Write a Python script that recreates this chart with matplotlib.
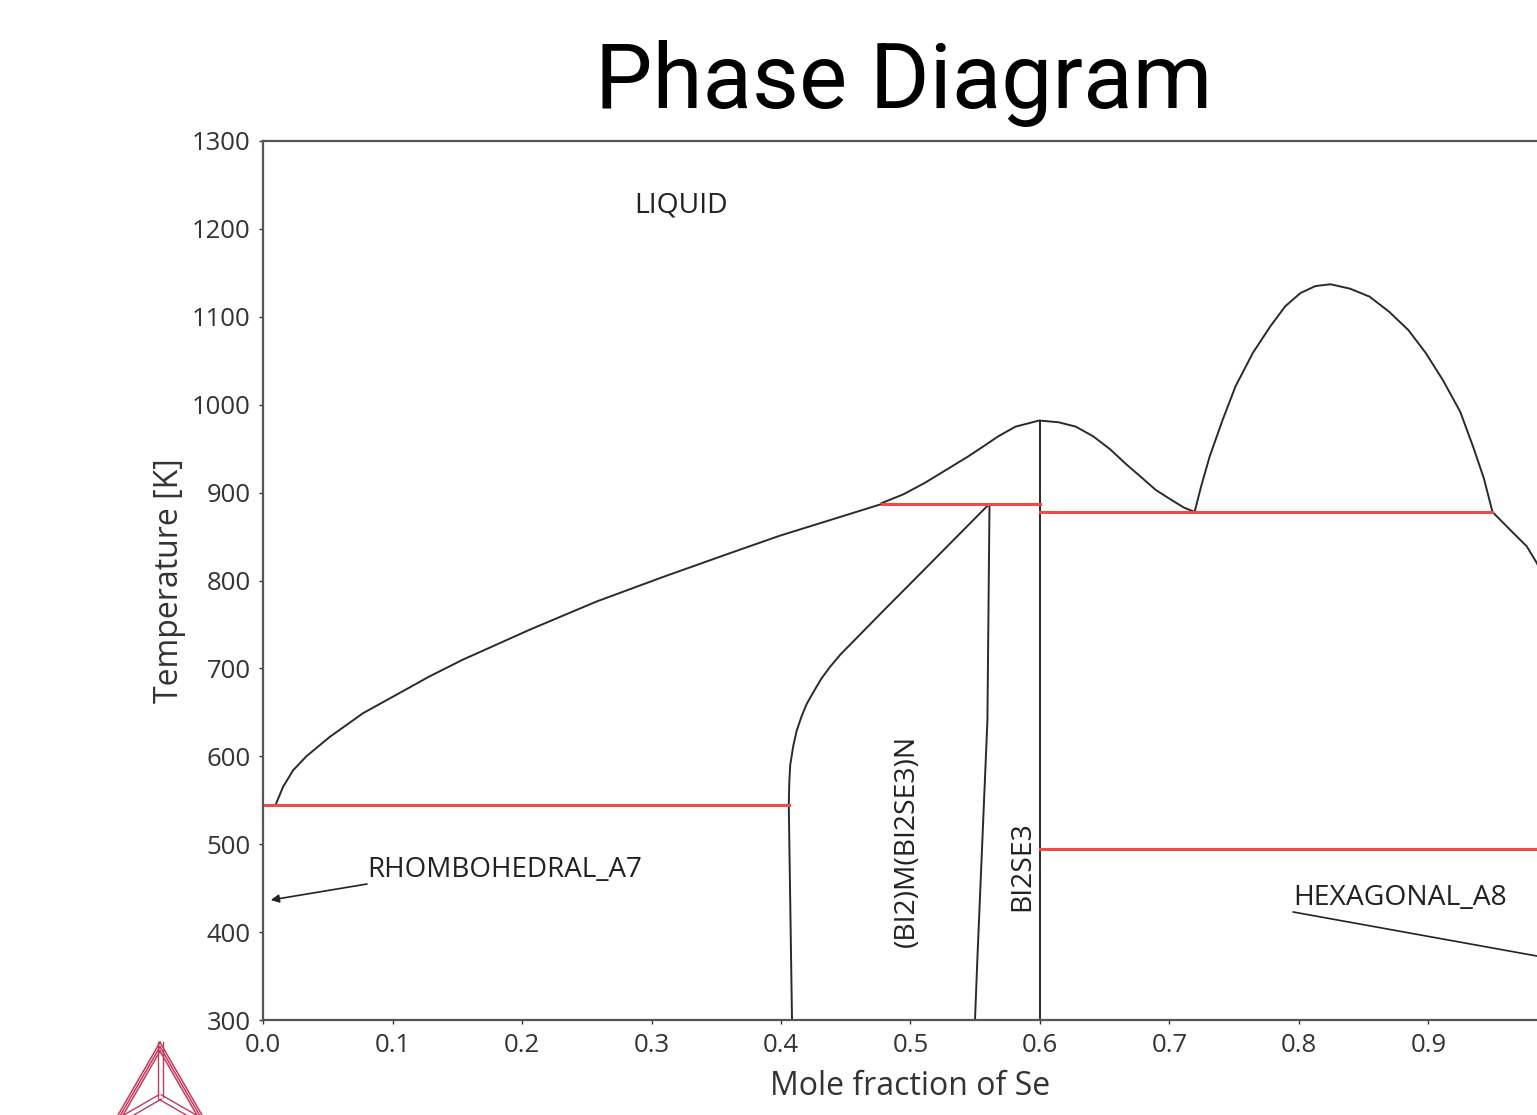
import numpy as np
import matplotlib
matplotlib.use("Agg")
import matplotlib.pyplot as plt

# --- data (x = mole fraction Se, T in K) ---
# liquidus on the Bi-rich side, from the 545 K line up to the eutectic
liq_left_x = [0.0098, 0.0154, 0.0232, 0.0335, 0.0515, 0.0772, 0.1030, 0.1287, 0.1544,
              0.1802, 0.2059, 0.2574, 0.3089, 0.3604, 0.3992, 0.4276, 0.4777]
liq_left_T = [545, 565, 584, 600, 622, 649, 670, 691, 710,
              727, 744, 776, 804, 831, 851, 864, 887]

# liquidus around the Bi2Se3 congruent maximum
liq_mid_x = [0.4777, 0.4944, 0.5110, 0.5277, 0.5444, 0.5577, 0.5677, 0.5810, 0.5994,
             0.6144, 0.6277, 0.6411, 0.6544, 0.6660, 0.6778, 0.6894, 0.7011, 0.7111, 0.7194]
liq_mid_T = [888, 898, 911, 926, 941, 954, 964, 975, 982,
             980, 975, 964, 949, 933, 918, 903, 892, 883, 878]

# miscibility-gap dome on the Se-rich side
dome_x = [0.7194, 0.7244, 0.7310, 0.7411, 0.7510, 0.7644, 0.7778, 0.7894, 0.8011, 0.8127,
          0.8244, 0.8394, 0.8544, 0.8694, 0.8844, 0.8978, 0.9111, 0.9245, 0.9345, 0.9428, 0.9494]
dome_T = [878, 907, 941, 983, 1021, 1059, 1089, 1112, 1127, 1135,
          1137, 1132, 1123, 1106, 1085, 1059, 1028, 992, 952, 916, 878]

# liquidus going down towards pure Se
liq_right_x = [0.9494, 0.9655, 0.9758, 0.9836, 0.9950]
liq_right_T = [878, 854, 839, 820, 785]

# (Bi2)M(Bi2Se3)N phase boundaries
bnd_left_x = [0.4085, 0.4060, 0.4064, 0.4071, 0.4095, 0.4121, 0.4160, 0.4200, 0.4250,
              0.4310, 0.4380, 0.4460, 0.4600, 0.4800, 0.5050, 0.5305, 0.5601]
bnd_left_T = [300, 545, 570, 590, 612, 629, 646, 660, 673,
              688, 702, 716, 737, 767, 804, 842, 886]
bnd_right_x = [0.5610, 0.5594, 0.5516, 0.5498]
bnd_right_T = [886, 641, 368, 300]

# Bi2Se3 line compound
bi2se3_x = 0.6
bi2se3_T = [300, 982]

# invariant (three-phase) lines: x start, x end, T
inv_x0 = [0.0, 0.4777, 0.6, 0.6]
inv_x1 = [0.406, 0.6, 0.9494, 1.0]
inv_T = [545, 887.5, 878, 494.5]

# phase labels
labels = ["LIQUID", "(BI2)M(BI2SE3)N", "BI2SE3"]
label_x = [0.323, 0.4975, 0.5865]
label_T = [1227, 504, 475]
label_rot = [0, 90, 90]

x_ticks = [0.0, 0.1, 0.2, 0.3, 0.4, 0.5, 0.6, 0.7, 0.8, 0.9]
T_ticks = [300, 400, 500, 600, 700, 800, 900, 1000, 1100, 1200, 1300]

W, H = 1537, 1115
fig = plt.figure(figsize=(W / 100, H / 100), dpi=100)

# thermo-calc style logo in the lower-left corner
logo = fig.add_axes([0, 0, 1, 1])
logo.set_xlim(0, W)
logo.set_ylim(H, 0)
logo.axis("off")
cx, cy, h = 160.0, 1097.0, 82.0
for s in [1.0, 0.92, 0.84]:
    hh = h * s
    top = (cx, cy - 2 * hh / 3)
    bl = (cx - hh / np.sqrt(3), cy + hh / 3)
    br = (cx + hh / np.sqrt(3), cy + hh / 3)
    tri = [top, bl, br, top]
    logo.plot([p[0] for p in tri], [p[1] for p in tri], color="#c23a5c", lw=1.1)
for ang in [90, 210, 330]:
    for off in [-2.5, 2.5]:
        a = np.deg2rad(ang)
        ox, oy = -np.sin(a) * off, -np.cos(a) * off
        logo.plot([cx + ox, cx + ox + 2 * h / 3 * np.cos(a)],
                  [cy + oy, cy + oy - 2 * h / 3 * np.sin(a)], color="#c23a5c", lw=1.0)

fig.text(904 / W, 1 - 108 / H, "Phase Diagram", fontsize=65.5, family="Roboto",
         ha="center", va="baseline", color="black")

ax = fig.add_axes([263 / W, 95 / H, 1295 / W, 879 / H])
ax.set_xlim(0, 1)
ax.set_ylim(300, 1300)

lc = "#2a2a2a"
lw = 1.4
ax.plot(liq_left_x, liq_left_T, color=lc, lw=lw)
ax.plot(liq_mid_x, liq_mid_T, color=lc, lw=lw)
ax.plot(dome_x, dome_T, color=lc, lw=lw)
ax.plot(liq_right_x, liq_right_T, color=lc, lw=lw)
ax.plot(bnd_left_x, bnd_left_T, color=lc, lw=lw)
ax.plot(bnd_right_x, bnd_right_T, color=lc, lw=lw)
ax.plot([bi2se3_x, bi2se3_x], bi2se3_T, color=lc, lw=lw)
for x0, x1, t in zip(inv_x0, inv_x1, inv_T):
    ax.plot([x0, x1], [t, t], color="#f24a4a", lw=2.2)

tf = "Open Sans"
tc = "#222222"
for lab, lx, lt, rot in zip(labels, label_x, label_T, label_rot):
    ax.text(lx, lt, lab, fontsize=20.3, family=tf, color=tc, rotation=rot,
            ha="center", va="center")

ax.annotate("RHOMBOHEDRAL_A7", xy=(0.006, 436.5), xytext=(0.0803, 454.7),
            fontsize=20, family=tf, color=tc, ha="left", va="bottom",
            arrowprops=dict(arrowstyle="-|>", color=tc, lw=1.2, mutation_scale=12,
                            shrinkA=0, shrinkB=0, relpos=(0, 0), patchA=None))
ax.annotate("HEXAGONAL_A8", xy=(0.998, 369), xytext=(0.7954, 422.9),
            fontsize=20.3, family=tf, color=tc, ha="left", va="bottom",
            arrowprops=dict(arrowstyle="-|>", color=tc, lw=1.2, mutation_scale=12,
                            shrinkA=0, shrinkB=0, relpos=(0, 0), patchA=None))

ax.set_xticks(x_ticks)
ax.set_xticklabels([f"{v:.1f}" for v in x_ticks])
ax.set_yticks(T_ticks)
ax.tick_params(labelsize=18.5, colors="#333333", length=3, width=1, pad=6)
for lab in ax.get_xticklabels() + ax.get_yticklabels():
    lab.set_family(tf)
for sp in ax.spines.values():
    sp.set_color("#555555")
    sp.set_linewidth(1.6)

ax.set_xlabel("Mole fraction of Se", fontsize=23, family=tf, color="#333333", labelpad=9)
ax.set_ylabel("Temperature [K]", fontsize=23, family=tf, color="#333333", labelpad=4)

fig.savefig("out.png", dpi=100)
